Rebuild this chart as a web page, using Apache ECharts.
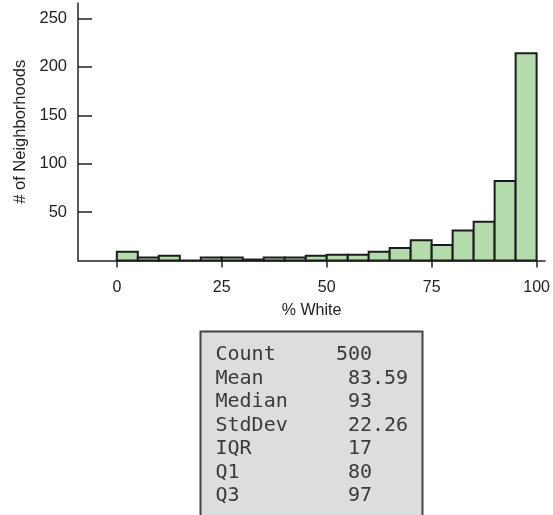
<!DOCTYPE html>
<html>
<head>
<meta charset="utf-8">
<script src="https://cdn.jsdelivr.net/npm/echarts@6/dist/echarts.min.js"></script>
<style>html,body{margin:0;padding:0;background:#fff}#c{width:553px;height:515px}</style>
</head>
<body>
<div id="c"></div>
<script>
// Histogram bins (% White), width 5
var binStarts = [0,5,10,15,20,25,30,35,40,45,50,55,60,65,70,75,80,85,90,95];
var binWidth = 5;
var counts = [9,3,5,0,3,3,1,3,3,5,6,6,9,13,21,16,31,40,82,214];
var xTicks = [0,25,50,75,100];
var yTicks = [50,100,150,200,250];
var statNames = ['Count','Mean','Median','StdDev','IQR','Q1','Q3'];
var statValues = ['500','83.59','93','22.26','17','80','97'];

var data = binStarts.map(function(s,i){ return [s, s+binWidth, counts[i]]; });

var lines = statNames.map(function(n,i){
  var v = statValues[i];
  var intLen = v.split('.')[0].length;
  var col = 13 - intLen;
  var s = n;
  while (s.length < col) s += ' ';
  return s + v;
});

var chart = echarts.init(document.getElementById('c'));
var axisColor = '#222';
var font = 'Liberation Sans';
chart.setOption({
  animation: false,
  grid: {left: 78, right: 8, top: 3, bottom: 254.5, containLabel: false},
  xAxis: {
    type: 'value', min: -9.25, max: 102,
    name: '% White', nameLocation: 'middle', nameGap: 42,
    nameTextStyle: {fontFamily: font, fontSize: 16, color: axisColor},
    axisLine: {show: true, onZero: false, lineStyle: {color: axisColor, width: 1.5}},
    axisTick: {show: true, length: 7, inside: false, customValues: xTicks, lineStyle: {color: axisColor, width: 1.5}},
    axisLabel: {customValues: xTicks, fontFamily: font, fontSize: 16, color: axisColor, margin: 19},
    splitLine: {show: false}
  },
  yAxis: {
    type: 'value', min: 0, max: 266,
    name: '# of Neighborhoods', nameLocation: 'middle', nameGap: 48,
    nameTextStyle: {fontFamily: font, fontSize: 16.5, color: axisColor},
    axisLine: {show: true, onZero: false, lineStyle: {color: axisColor, width: 1.5}},
    axisTick: {show: true, inside: true, length: 14, customValues: yTicks, lineStyle: {color: axisColor, width: 1.5}},
    axisLabel: {customValues: yTicks, fontFamily: font, fontSize: 16.5, color: axisColor, margin: 11},
    splitLine: {show: false}
  },
  series: [{
    type: 'custom',
    data: data,
    encode: {x: [0,1], y: 2},
    renderItem: function(params, api){
      var p0 = api.coord([api.value(0), api.value(2)]);
      var p1 = api.coord([api.value(1), 0]);
      return {
        type: 'rect',
        shape: {x: p0[0], y: p0[1], width: p1[0]-p0[0], height: p1[1]-p0[1]},
        style: {fill: '#b3dbab', stroke: '#1c1c1c', lineWidth: 2}
      };
    }
  }],
  graphic: [
    {type: 'rect', shape: {x: 200.5, y: 331.5, width: 222, height: 200},
     style: {fill: '#dcdddf', stroke: '#444', lineWidth: 2}},
    {type: 'text', x: 215.5, y: 343.5,
     style: {text: lines.join('\n'), font: '20px "DejaVu Sans Mono"', lineHeight: 23.5, fill: '#3a3a3a', verticalAlign: 'top', align: 'left'}}
  ]
});
</script>
</body>
</html>
